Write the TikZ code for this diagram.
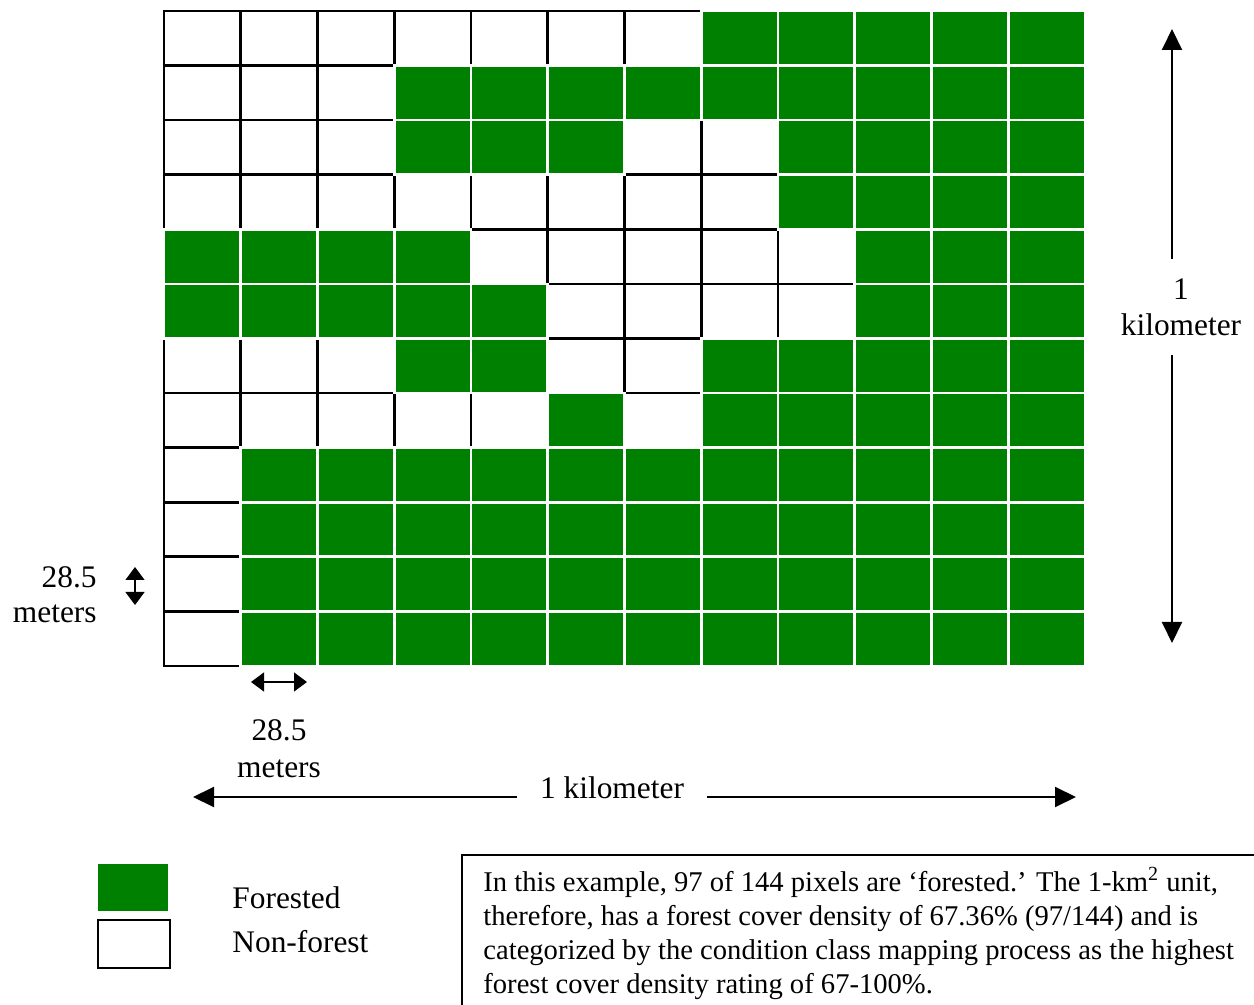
\documentclass[tikz,border=0pt]{standalone}
\usepackage{fontspec}
\setmainfont{Liberation Serif}
\usetikzlibrary{arrows.meta}
\definecolor{forest}{RGB}{0,128,0}

\def\landcover{{0,0,0,0,0,0,0,1,1,1,1,1},
  {0,0,0,1,1,1,1,1,1,1,1,1},
  {0,0,0,1,1,1,0,0,1,1,1,1},
  {0,0,0,0,0,0,0,0,1,1,1,1},
  {1,1,1,1,0,0,0,0,0,1,1,1},
  {1,1,1,1,1,0,0,0,0,1,1,1},
  {0,0,0,1,1,0,0,1,1,1,1,1},
  {0,0,0,0,0,1,0,1,1,1,1,1},
  {0,1,1,1,1,1,1,1,1,1,1,1},
  {0,1,1,1,1,1,1,1,1,1,1,1},
  {0,1,1,1,1,1,1,1,1,1,1,1},
  {0,1,1,1,1,1,1,1,1,1,1,1}}

\begin{document}
\begin{tikzpicture}[x=0.5pt,y=-0.5pt,
  plaincell/.style={draw=black,line width=1.3pt},
  forestcell/.style={fill=forest,draw=white,line width=1.3pt},
  label/.style={font=\fontsize{15.7}{17.5}\selectfont,inner sep=0pt},
  bigtip/.style={line width=1pt,-{Triangle[length=10.5pt,width=10pt]}},
  smalltip/.style={line width=0.6pt,{Triangle[length=6.5pt,width=9.5pt]}-{Triangle[length=6.5pt,width=9.5pt]}}]
  \useasboundingbox (0,0) rectangle (1254,1005);
  \clip (0,0) rectangle (1254,1005);

  % non-forest pixels first, forested ones on top
  \foreach \cells [count=\r] in \landcover {
    \foreach \f [count=\c] in \cells {
      \ifnum\f=0
        \draw[plaincell] ({164+(\c-1)*76.75},{11+(\r-1)*54.58}) rectangle ++(76.75,54.58);
      \fi
    }
  }
  \foreach \cells [count=\r] in \landcover {
    \foreach \f [count=\c] in \cells {
      \ifnum\f=1
        \filldraw[forestcell] ({164+(\c-1)*76.75},{11+(\r-1)*54.58}) rectangle ++(76.75,54.58);
      \fi
    }
  }

  % scale of one pixel
  \coordinate (sv1) at (135,567);
  \coordinate (sv2) at (135,605);
  \coordinate (sh1) at (251,682);
  \coordinate (sh2) at (307,682);
  \draw[smalltip] (sv1) -- (sv2);
  \draw[smalltip] (sh1) -- (sh2);
  \node[label,align=right,anchor=north east] (pxv) at (97,566) {28.5\\meters};
  \node[label,align=center,anchor=north,font=\fontsize{15.7}{18.5}\selectfont] (pxh) at (279,719) {28.5\\meters};

  % scale of the whole unit
  \coordinate (vt) at (1172,29);
  \coordinate (vb) at (1172,643);
  \coordinate (hl) at (193,797);
  \coordinate (hr) at (1076,797);
  \node[label,align=center,anchor=north,inner ysep=9.5pt,font=\fontsize{15.7}{18}\selectfont] (kmv) at (1181,259) {1\\kilometer};
  \node[label,anchor=base,inner xsep=11.5pt] (kmh) at (612,798) {1 kilometer};
  \draw[bigtip] (kmv.north -| vt) -- (vt);
  \draw[bigtip] (kmv.south -| vb) -- (vb);
  \draw[bigtip] (kmh.west |- hl) -- (hl);
  \draw[bigtip] (kmh.east |- hr) -- (hr);

  % legend
  \node[fill=forest,minimum width=35pt,minimum height=23.5pt,inner sep=0pt] (fsw) at (133,887.5) {};
  \node[draw=black,line width=1pt,minimum width=36pt,minimum height=24pt,inner sep=0pt] (nsw) at (133.5,943.5) {};
  \node[label,anchor=base west] (flab) at (232,908) {Forested};
  \node[label,anchor=base west] (nlab) at (232,952) {Non-forest};

  % note
  \draw[line width=0.8pt] (462,1010) |- (1260,855);
  \node[align=left,anchor=north west,inner sep=0pt,font=\fontsize{14.3}{17}\selectfont] (note) at (483,867)
    {In this example, 97 of 144 pixels are `forested.' The 1-km\textsuperscript{2} unit,\\
     therefore, has a forest cover density of 67.36\% (97/144) and is\\
     categorized by the condition class mapping process as the highest\\
     forest cover density rating of 67-100\%.};
\end{tikzpicture}
\end{document}
